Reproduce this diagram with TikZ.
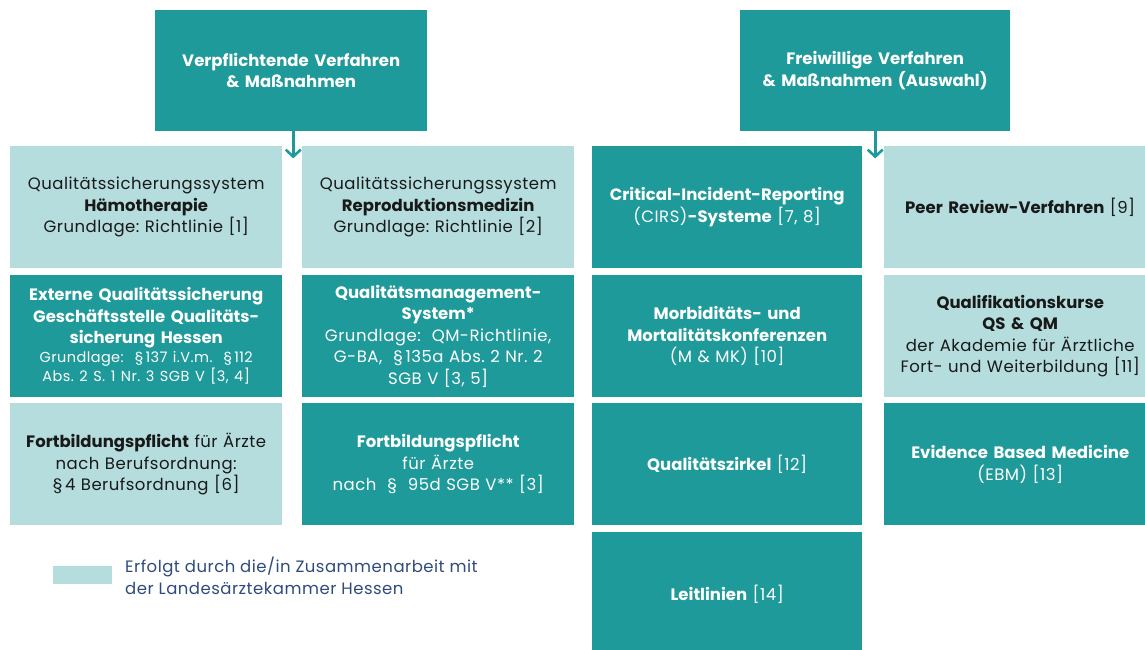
\documentclass[tikz,border=0pt]{standalone}
\usepackage{fontspec}
\setmainfont{Poppins}[UprightFeatures={LetterSpace=3}]
\frenchspacing
\usetikzlibrary{arrows.meta}
\definecolor{qsdark}{HTML}{1E9A9A}
\definecolor{qslight}{HTML}{B5DDDE}
\definecolor{qsnavy}{HTML}{2F4B7C}
\tikzset{
  cell/.style={anchor=north west, minimum width=272pt, minimum height=122pt, inner sep=0pt,
    align=center, text width=268pt, font=\fontsize{16.5}{21.5}\selectfont},
  darkcell/.style={cell, fill=qsdark, text=white},
  lightcell/.style={cell, fill=qslight, text=black!90},
  headcell/.style={darkcell, minimum height=121pt},
  downarrow/.style={-{Straight Barb[length=7pt,width=15pt]}, line width=2.6pt, draw=qsdark}
}
\begin{document}
\begin{tikzpicture}[x=1pt,y=-1pt]
\useasboundingbox (0,0) rectangle (1145,650);

% Kopfzeilen
\node[headcell] (pflicht) at (155,10) {\textbf{Verpflichtende Verfahren}\\\textbf{\& Maßnahmen}};
\node[headcell, minimum width=270pt] (frei) at (740,10) {\textbf{Freiwillige Verfahren}\\\textbf{\& Maßnahmen (Auswahl)}};

% verpflichtend
\node[lightcell] (haemo) at (10,146) {Qualitätssicherungssystem\\\textbf{Hämotherapie}\\Grundlage: Richtlinie [1]};
\node[lightcell] (repro) at (302,146) {Qualitätssicherungssystem\\\textbf{Reproduktionsmedizin}\\Grundlage: Richtlinie [2]};
\node[darkcell] (extern) at (10,275) {\textbf{Externe Qualitätssicherung}\\\textbf{Geschäftsstelle Qualitäts-}\\\textbf{sicherung Hessen}\\{\fontsize{14.5}{19}\selectfont Grundlage:~ \S\,137 i.V.m.~ \S\,112\\Abs. 2 S. 1 Nr. 3 SGB V [3, 4]\par}};
\node[darkcell] (qmsys) at (302,275) {\textbf{Qualitätsmanagement-}\\\textbf{System*}\\Grundlage:~ QM-Richtlinie,\\G-BA,~ \S\,135a Abs. 2 Nr. 2\\SGB V [3, 5]};
\node[lightcell] (fortbo) at (10,403) {\textbf{Fortbildungspflicht} für Ärzte\\nach Berufsordnung:\\\S\,4 Berufsordnung [6]};
\node[darkcell] (fortsgb) at (302,403) {\textbf{Fortbildungspflicht}\\für Ärzte\\nach~ \S~ 95d SGB V** [3]};

% freiwillig
\node[darkcell, minimum width=270pt] (cirs) at (592,146) {\textbf{Critical-Incident-Reporting}\\(CIRS)\textbf{-Systeme} [7, 8]};
\node[lightcell] (peer) at (884,146) {\textbf{Peer Review-Verfahren} [9]};
\node[darkcell, minimum width=270pt] (mmk) at (592,275) {\textbf{Morbiditäts- und}\\\textbf{Mortalitätskonferenzen}\\(M \& MK) [10]};
\node[lightcell] (kurse) at (884,275) {\textbf{Qualifikationskurse}\\\textbf{QS \& QM}\\der Akademie für Ärztliche\\Fort- und Weiterbildung [11]};
\node[darkcell, minimum width=270pt] (zirkel) at (592,403) {\textbf{Qualitätszirkel} [12]};
\node[darkcell] (ebm) at (884,403) {\textbf{Evidence Based Medicine}\\(EBM) [13]};
\node[darkcell, minimum width=270pt, minimum height=125pt] (leit) at (592,532) {\textbf{Leitlinien} [14]};

% Pfeile
\coordinate (pflichtend) at ([xshift=2pt,yshift=-27pt]pflicht.south);
\coordinate (freiend) at ([yshift=-27pt]frei.south);
\draw[downarrow] (pflicht.south -| pflichtend) -- (pflichtend);
\draw[downarrow] (frei.south) -- (freiend);

% Legende
\node[fill=qslight, anchor=north west, minimum width=59pt, minimum height=18pt, inner sep=0pt] (legbox) at (53,566) {};
\node[anchor=west, align=left, text=qsnavy, inner sep=0pt, font=\fontsize{16.5}{21.5}\selectfont] (legtext) at (125,576) {Erfolgt durch die/in Zusammenarbeit mit\\der Landesärztekammer Hessen};
\end{tikzpicture}
\end{document}
